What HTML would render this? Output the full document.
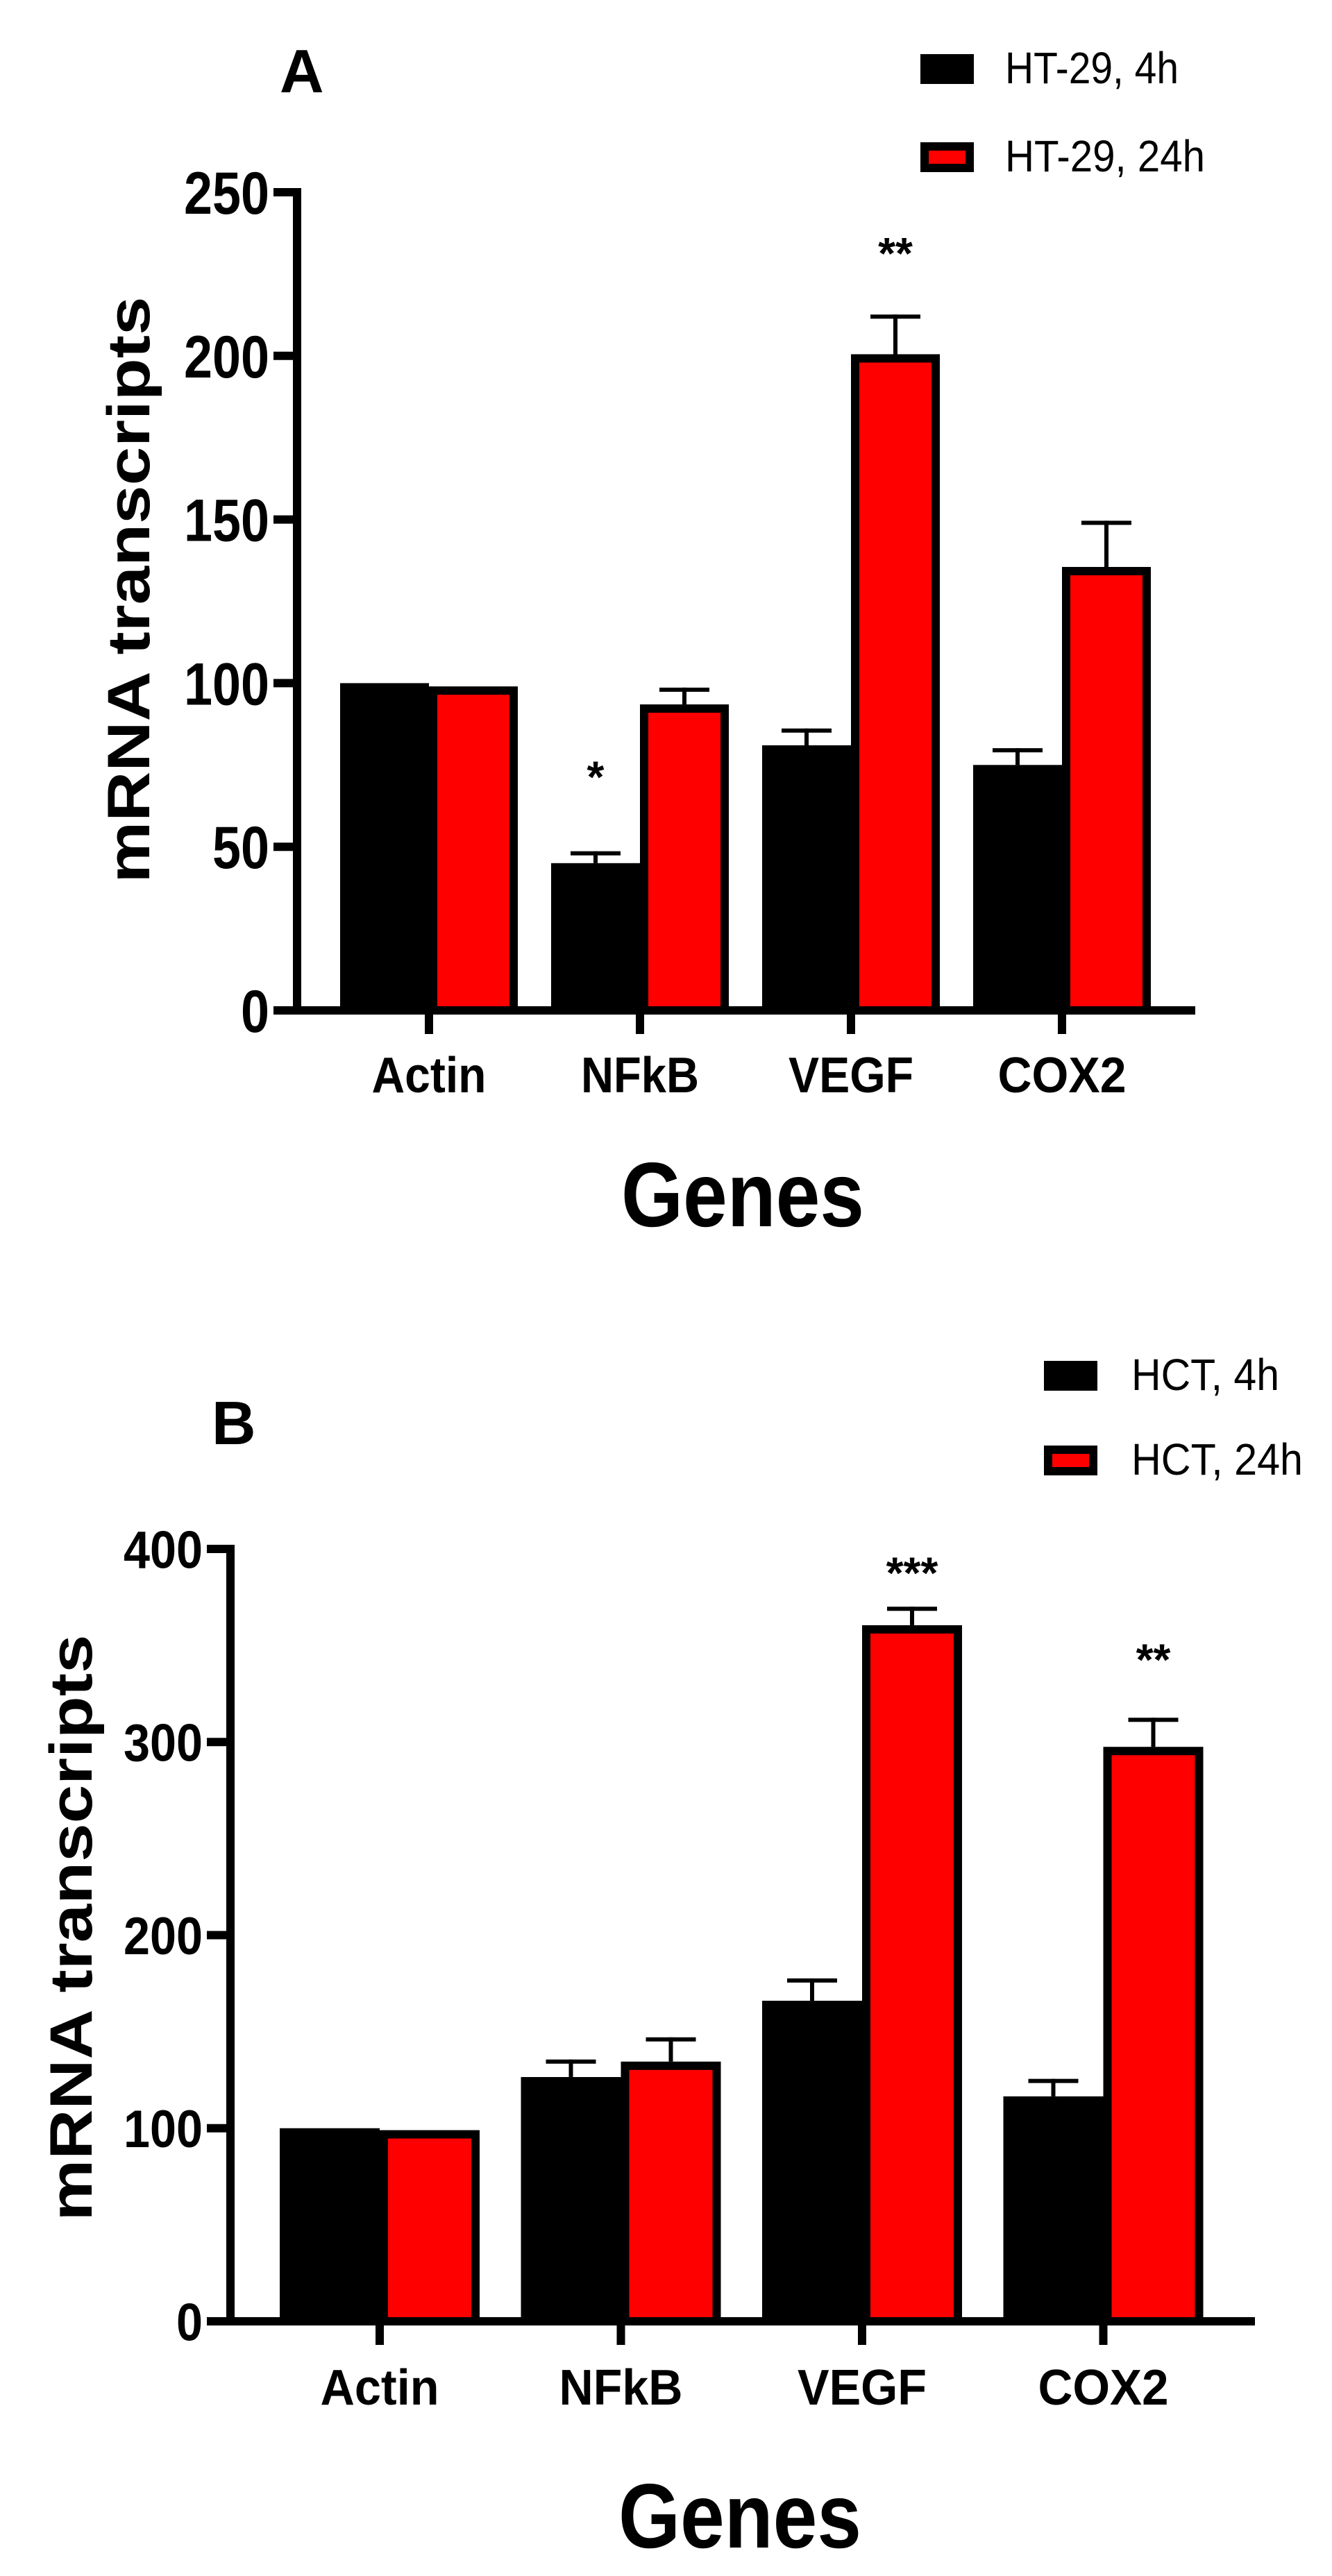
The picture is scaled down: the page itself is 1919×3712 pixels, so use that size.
<!DOCTYPE html>
<html><head><meta charset="utf-8"><style>
html,body{margin:0;padding:0;background:#fff;width:1919px;height:3712px;overflow:hidden}
svg{display:block}
text{font-family:"Liberation Sans",Arial,sans-serif}
</style></head><body>
<svg id="fig" width="1919" height="3712" viewBox="0 0 1919 3712" xmlns="http://www.w3.org/2000/svg">
  <g id="panelA"></g>
  <g id="panelB"></g>
</svg>
<script>
const categories = ["Actin","NFkB","VEGF","COX2"];
const aSeries4h = [100, 45, 81, 75];
const aErr4h = [0, 3, 4.5, 4.5];
const aSeries24h = [99, 93.5, 200.5, 135.5];
const aErr24h = [0, 4.5, 11.5, 13.5];
const aTicks = [0, 50, 100, 150, 200, 250];
const aStars = ["", "*", "", ""];
const aStars24 = ["", "", "**", ""];
const aLegend = ["HT-29, 4h", "HT-29, 24h"];

const bSeries4h = [100, 126.5, 166, 116.5];
const bErr4h = [0, 8, 10.5, 8];
const bSeries24h = [99, 134.5, 360.5, 297.5];
const bErr24h = [0, 11.5, 8.5, 14];
const bTicks = [0, 100, 200, 300, 400];
const bStars = ["", "", "", ""];
const bStars24 = ["", "", "***", "**"];
const bLegend = ["HCT, 4h", "HCT, 24h"];

const NS = "http://www.w3.org/2000/svg";
function mk(parent, tag, attrs, txt){
  const e = document.createElementNS(NS, tag);
  for (const k in attrs) e.setAttribute(k, attrs[k]);
  if (txt !== undefined) e.textContent = txt;
  parent.appendChild(e);
  return e;
}

function drawPanel(g, cfg){
  const yScale = v => cfg.y0 - v * (cfg.y0 - cfg.yTop) / cfg.yMax;
  const xCenter = i => cfg.x0c + i * cfg.gap;
  const SW = 12;
  for (let i = 0; i < categories.length; i++){
    const c = xCenter(i);
    [[cfg.s4, cfg.e4, cfg.st4, "#000", c - cfg.bw, cfg.gap4], [cfg.s24, cfg.e24, cfg.st24, "#ff0000", c, cfg.gap24]].forEach((s, k) => {
      const v = s[0][i], er = s[1][i], left = s[4];
      const yt = yScale(v);
      const mid = left + cfg.bw/2;
      if (er > 0){
        const ye = yScale(v + er);
        const eb = mk(g, "line", {x1: mid, x2: mid, y1: yt, y2: ye - 3, stroke: "#000", "stroke-width": 6});
        
        
        const cap = mk(g, "line", {x1: mid - 36, x2: mid + 36, y1: ye, y2: ye, stroke: "#000", "stroke-width": 6});
        
        
      }
      const r = mk(g, "rect", {x: left + SW/2, y: yt + SW/2, width: cfg.bw - SW, height: cfg.y0 - yt - SW/2, fill: s[3], stroke: "#000", "stroke-width": SW});
      
      
      const star = s[2][i];
      if (star){
        const top = yScale(v + er);
        const t = mk(g, "text", {x: mid, y: top - s[5][i] + 36, "text-anchor": "middle", "font-size": 64, "font-weight": "bold"}, star);
        
        
      }
    });
  }
  const ya = mk(g, "line", {x1: cfg.ax, x2: cfg.ax, y1: cfg.yTop - 6, y2: cfg.y0 + 6, stroke: "#000", "stroke-width": SW});
  
  
  const xa = mk(g, "line", {x1: cfg.ax - 6, x2: cfg.axEnd, y1: cfg.y0, y2: cfg.y0, stroke: "#000", "stroke-width": SW});
  
  
  cfg.ticks.forEach(tv => {
    const y = yScale(tv);
    const tk = mk(g, "line", {x1: cfg.ax - 34, x2: cfg.ax, y1: y, y2: y, stroke: "#000", "stroke-width": SW});
    
    
    const s = String(tv);
    const tl = mk(g, "text", {x: cfg.ax - 40, y: y + cfg.tickFs*0.36, "text-anchor": "end", "font-size": cfg.tickFs, "font-weight": "bold", textLength: s.length * cfg.digitW, lengthAdjust: "spacingAndGlyphs"}, s);
    
    
  });
  categories.forEach((c, i) => {
    const x = xCenter(i);
    const tk = mk(g, "line", {x1: x, x2: x, y1: cfg.y0, y2: cfg.y0 + 34, stroke: "#000", "stroke-width": SW});
    
    
    const tl = mk(g, "text", {x: x, y: cfg.catY, "text-anchor": "middle", "font-size": 72, "font-weight": "bold", textLength: cfg.catW[i], lengthAdjust: "spacingAndGlyphs"}, c);
    
    
  });
  const xt = mk(g, "text", {x: cfg.genesX, y: cfg.genesY, "text-anchor": "middle", "font-size": 132, "font-weight": "bold", textLength: 350, lengthAdjust: "spacingAndGlyphs"}, "Genes");
  
  
  const yt = mk(g, "text", {x: 0, y: 0, "text-anchor": "middle", "font-size": 86, "font-weight": "bold", textLength: 845, lengthAdjust: "spacingAndGlyphs", transform: `translate(${cfg.ytX},${cfg.ytY}) rotate(-90)`}, "mRNA transcripts");
  
  
  const pl = mk(g, "text", {x: cfg.letterX, y: cfg.letterY, "font-size": 88, "font-weight": "bold"}, cfg.letter);
  
  
  cfg.legend.forEach((lab, k) => {
    const ly = cfg.legY[k];
    const lr = mk(g, "rect", {x: cfg.legX + 6, y: ly + 6, width: 65, height: 31, fill: k ? "#ff0000" : "#000", stroke: "#000", "stroke-width": 12});
    
    
    const lt = mk(g, "text", {x: cfg.legTX, y: ly + 42, "font-size": 64, textLength: cfg.legW[k], lengthAdjust: "spacingAndGlyphs"}, lab);
    
    
  });
}

drawPanel(document.getElementById("panelA"), {
  s4: aSeries4h, e4: aErr4h, s24: aSeries24h, e24: aErr24h, st4: aStars, st24: aStars24,
  gap4: [0, 124, 0, 0], gap24: [0, 0, 105, 0],
  ticks: aTicks, yMax: 250, y0: 1456, yTop: 277, ax: 428, axEnd: 1722,
  x0c: 618, gap: 304, bw: 128, tickFs: 86, digitW: 41,
  catY: 1574, catW: [165, 170, 180, 185], genesX: 1070, genesY: 1767,
  ytX: 215, ytY: 850, letter: "A", letterX: 403, letterY: 133,
  legend: aLegend, legX: 1326, legY: [78, 205], legTX: 1448, legW: [250, 288]
});
drawPanel(document.getElementById("panelB"), {
  s4: bSeries4h, e4: bErr4h, s24: bSeries24h, e24: bErr24h, st4: bStars, st24: bStars24,
  gap4: [0, 0, 0, 0], gap24: [0, 0, 66, 101],
  ticks: bTicks, yMax: 400, y0: 3345, yTop: 2232, ax: 332, axEnd: 1808,
  x0c: 547, gap: 347.5, bw: 144, tickFs: 76, digitW: 38,
  catY: 3465, catW: [171, 178, 186, 188], genesX: 1066, genesY: 3671,
  ytX: 132, ytY: 2778, letter: "B", letterX: 305, letterY: 2081,
  legend: bLegend, legX: 1504, legY: [1961, 2083], legTX: 1630, legW: [213, 247]
});
</script>
</body></html>
